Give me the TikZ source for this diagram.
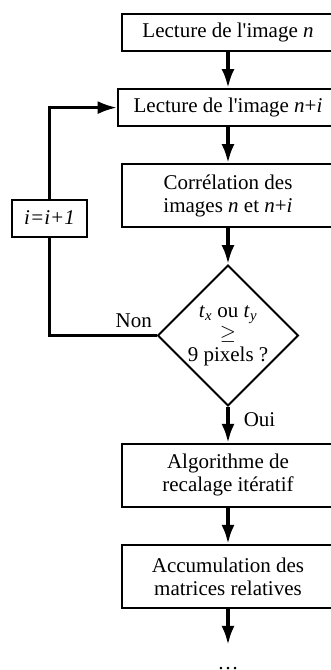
\documentclass[tikz,border=0pt]{standalone}
\usepackage{fontspec}
\setmainfont{Liberation Serif}
\usetikzlibrary{arrows.meta, positioning, shapes.geometric}
\begin{document}
\begin{tikzpicture}[x=1pt, y=1pt,
  node distance=36pt,
  etape/.style={
    draw, line width=2pt,
    minimum width=212pt, minimum height=37pt,
    inner xsep=16pt, inner ysep=9pt,
    align=center, font=\fontsize{21}{23}\selectfont
  },
  haute/.style={etape, minimum height=63pt},
  petite/.style={etape, minimum width=75pt, inner xsep=8pt},
  test/.style={
    draw, diamond, line width=2pt, inner sep=0pt,
    minimum width=133pt, minimum height=137pt,
    align=center, font=\fontsize{21}{22}\selectfont
  },
  lbl/.style={font=\fontsize{21}{23}\selectfont, inner sep=0pt},
  fleche/.style={-{Latex[length=19pt, width=13pt]}, line width=3.5pt},
  retour/.style={line width=2.5pt}
]
  \useasboundingbox (0,0) rectangle (331,-670);
  \clip (0,0) rectangle (331,-670);

  \node[etape] (lec1) at (228,-32.5) {Lecture de l\textquotesingle image \textit{n}};
  \node[etape, below=of lec1] (lec2) {Lecture de l\textquotesingle image \textit{n}+\textit{i}};
  \node[haute, below=of lec2] (corr) {Corrélation des\\images \textit{n} et \textit{n}+\textit{i}};
  \node[test, below=of corr] (dep) {\textit{t}\textsubscript{\textit{x}} ou \textit{t}\textsubscript{\textit{y}}\\$\geq$\\9 pixels ?};
  \node[haute, below=of dep] (alg) {Algorithme de\\recalage itératif};
  \node[haute, below=of alg] (acc) {Accumulation des\\matrices relatives};
  \node[lbl, below=of acc, text height=24pt, text depth=0pt] (suite) {\dots};
  \node[petite] (incr) at (49.5,-218) {\textit{i=i+1}};

  \draw[fleche] (lec1) -- (lec2);
  \draw[fleche] (lec2) -- (corr);
  \draw[fleche] (corr) -- (dep);
  \draw[fleche] (dep) -- node[lbl, right, pos=0.35, xshift=14pt] (oui) {Oui} (alg);
  \draw[fleche] (alg) -- (acc);
  \draw[fleche] (acc) -- (suite);

  \draw[retour] (dep.west) node[lbl, above left, xshift=-3.5pt, yshift=6.5pt] (non) {Non} -| (incr.south);
  \draw[fleche, retour] (incr.north) |- (lec2.west);
\end{tikzpicture}
\end{document}
